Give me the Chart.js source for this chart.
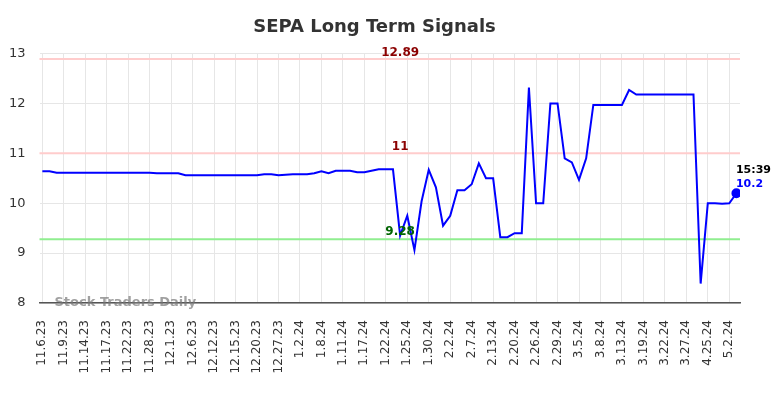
<!DOCTYPE html>
<html><head><meta charset="utf-8">
<script src="https://cdn.jsdelivr.net/npm/chart.js@4"></script>
<style>html,body{margin:0;padding:0;background:#fff}</style>
</head><body>
<canvas id="c" width="784" height="398"></canvas>
<script>
const tickLabels = ['11.6.23','11.9.23','11.14.23','11.17.23','11.22.23','11.28.23','12.1.23','12.6.23','12.12.23','12.15.23','12.20.23','12.27.23','1.2.24','1.8.24','1.11.24','1.17.24','1.22.24','1.25.24','1.30.24','2.2.24','2.7.24','2.13.24','2.20.24','2.26.24','2.29.24','3.5.24','3.8.24','3.13.24','3.19.24','3.22.24','3.27.24','4.25.24','5.2.24'];
const prices = [
  10.64,10.64,10.61,10.61,10.61,10.61,10.61,10.61,10.61,10.61,
  10.61,10.61,10.61,10.61,10.61,10.61,10.60,10.60,10.60,10.60,
  10.56,10.56,10.56,10.56,10.56,10.56,10.56,10.56,10.56,10.56,
  10.56,10.58,10.58,10.56,10.57,10.58,10.58,10.58,10.60,10.64,
  10.60,10.65,10.65,10.65,10.62,10.62,10.65,10.68,10.68,10.68,
  9.35,9.75,9.06,10.04,10.67,10.32,9.55,9.75,10.26,10.26,
  10.38,10.80,10.50,10.50,9.32,9.32,9.40,9.40,12.32,10.00,
  10.00,12.00,12.00,10.90,10.82,10.47,10.90,11.97,11.97,11.97,
  11.97,11.97,12.27,12.18,12.18,12.18,12.18,12.18,12.18,12.18,
  12.18,12.18,8.39,10.00,10.00,9.99,10.00,10.20
];
const resistanceLevels = [12.89, 11];
const supportLevels = [9.28];
const levelLabelIndex = 50;
const lastTime = '15:39';
const tickStep = 3;

const FONT = "'DejaVu Sans', sans-serif";

const levelsPlugin = {
  id: 'levels',
  beforeDatasetsDraw(chart) {
    const {ctx, chartArea, scales:{y}} = chart;
    ctx.save();
    ctx.lineWidth = 2;
    resistanceLevels.forEach(v => {
      const py = y.getPixelForValue(v);
      ctx.strokeStyle = '#ffcccc';
      ctx.beginPath(); ctx.moveTo(chartArea.left, py); ctx.lineTo(chartArea.right, py); ctx.stroke();
    });
    supportLevels.forEach(v => {
      const py = y.getPixelForValue(v);
      ctx.strokeStyle = '#90ee90';
      ctx.beginPath(); ctx.moveTo(chartArea.left, py); ctx.lineTo(chartArea.right, py); ctx.stroke();
    });
    ctx.restore();
  },
  afterDatasetsDraw(chart) {
    const {ctx, chartArea, scales:{x, y}} = chart;
    ctx.save();
    ctx.font = "bold 12px " + FONT;
    ctx.textAlign = 'center';
    ctx.textBaseline = 'alphabetic';
    const lx = x.getPixelForValue(levelLabelIndex);
    resistanceLevels.forEach(v => {
      ctx.fillStyle = '#8b0000';
      ctx.fillText(String(v), lx, y.getPixelForValue(v) - 3);
    });
    supportLevels.forEach(v => {
      ctx.fillStyle = '#006400';
      ctx.fillText(String(v), lx, y.getPixelForValue(v) - 4);
    });
    const li = prices.length - 1;
    const px = x.getPixelForValue(li), py = y.getPixelForValue(prices[li]);
    ctx.font = "bold 11px " + FONT;
    ctx.textAlign = 'left';
    ctx.fillStyle = '#0000ff';
    ctx.fillText(String(prices[li]), px - 0.5, py - 6.5);
    ctx.fillStyle = '#000';
    ctx.fillText(lastTime, px - 0.5, py - 20);
    ctx.font = "bold 13px " + FONT;
    ctx.fillStyle = 'rgba(120,120,120,0.7)';
    ctx.textAlign = 'left';
    ctx.textBaseline = 'middle';
    ctx.fillText('Stock Traders Daily', chartArea.left + 15, chartArea.bottom);
    ctx.restore();
  }
};

new Chart(document.getElementById('c'), {
  type: 'line',
  data: {
    datasets: [{
      data: prices.map((v, i) => ({x: i, y: v})),
      borderColor: '#0000ff',
      backgroundColor: '#0000ff',
      borderWidth: 2,
      tension: 0,
      pointRadius: ctx => ctx.dataIndex === prices.length - 1 ? 4 : 0,
      pointHoverRadius: 0
    }]
  },
  options: {
    responsive: false,
    animation: false,
    devicePixelRatio: 1,
    layout: {padding: {left: 9, right: 44, top: 0, bottom: 0}},
    plugins: {
      legend: {display: false},
      tooltip: {enabled: false},
      title: {display: true, text: 'SEPA Long Term Signals', color: '#333',
        font: {family: FONT, size: 18, weight: 'bold'}, padding: {top: 17, bottom: 15}}
    },
    scales: {
      x: {
        type: 'linear', min: -0.4, max: prices.length - 0.5,
        afterBuildTicks: s => { s.ticks = tickLabels.map((_, i) => ({value: i * tickStep})); },
        afterFit: s => { s.paddingLeft = 0; s.paddingRight = 0; s.height = 95; },
        ticks: {autoSkip: false, maxRotation: 90, minRotation: 90, padding: 17, color: '#333',
          font: {family: FONT, size: 12},
          callback: v => tickLabels[Math.round(v / tickStep)]},
        grid: {color: '#e6e6e6', drawTicks: false},
        border: {color: '#555', width: 1.5}
      },
      y: {
        min: 8, max: 13,
        afterFit: s => { s.width = 30.5; },
        ticks: {stepSize: 1, padding: 14, color: '#333', font: {family: FONT, size: 13}},
        grid: {color: '#e6e6e6', drawTicks: false},
        border: {display: false}
      }
    }
  },
  plugins: [levelsPlugin]
});
</script>
</body></html>
